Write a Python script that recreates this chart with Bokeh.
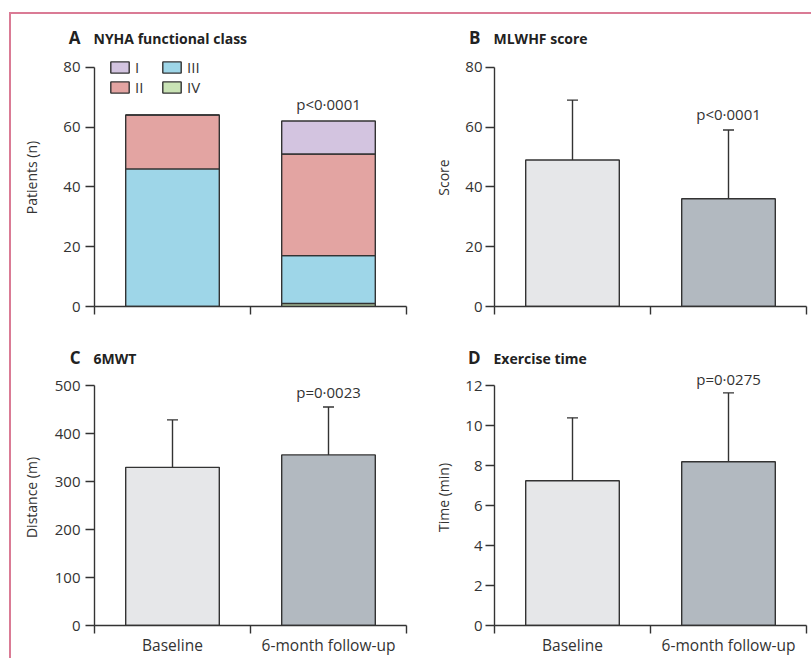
from bokeh.plotting import figure
from bokeh.layouts import column, row
from bokeh.core.properties import value
from bokeh.models import (Range1d, FixedTicker, Legend, LegendItem, Label, Div, Spacer,
                          Whisker, TeeHead, ColumnDataSource, LinearAxis)
from bokeh.embed import file_html
from bokeh.resources import INLINE

# ---------------- data ----------------
categories = ["Baseline", "6-month follow-up"]
nyha_classes = ["I", "II", "III", "IV"]
nyha_I = [0, 11]
nyha_II = [18, 34]
nyha_III = [46, 16]
nyha_IV = [0, 1]

mlwhf_mean = [49, 36]
mlwhf_sd = [20, 23]

smwt_mean = [330, 356]
smwt_sd = [99, 100]

extime_mean = [7.25, 8.2]
extime_sd = [3.15, 3.45]

p_values = ["p<0\u00b70001", "p<0\u00b70001", "p=0\u00b70023", "p=0\u00b70275"]
panel_letters = ["A", "B", "C", "D"]
panel_titles = ["NYHA functional class", "MLWHF score", "6MWT", "Exercise time"]
y_labels = ["Patients (n)", "Score", "Distance (m)", "Time (min)"]
ticks_A = [0, 20, 40, 60, 80]
ticks_B = [0, 20, 40, 60, 80]
ticks_C = [0, 100, 200, 300, 400, 500]
ticks_D = [0, 2, 4, 6, 8, 10, 12]

# ---------------- style ----------------
FONT = "Open Sans"
INK = "#333333"
TITLE_INK = "#222222"
PINK = "#DA7B95"
BAR_COLORS = ["#E6E7E9", "#B2B9C0"]
NYHA_COLORS = {"I": "#D3C4E0", "II": "#E3A4A2", "III": "#9ED6E8", "IV": "#C9E3B5"}
LW = 1.4
P_OFFSETS = [17, 16, 15.3, 13.5]
LETTER_SIZE, TITLE_SIZE = 17, 14


def make_panel(width, height, bl, br, bt, bb, ymax, zero_to_top_px, yticks, ylabel,
               label_standoff, axis_label_standoff, show_xlabels):
    frame_h = height - bt - bb
    y_end = ymax * frame_h / zero_to_top_px
    p = figure(width=width, height=height, x_range=Range1d(0, len(categories)),
               y_range=Range1d(0, y_end), output_backend="svg", toolbar_location=None,
               tools="", title=None, x_axis_type=None, y_axis_type=None,
               min_border_left=bl, min_border_right=br, min_border_top=bt, min_border_bottom=bb)
    p.outline_line_color = None
    p.background_fill_color = "white"
    p.border_fill_color = "white"

    xmaj = [i + 0.5 for i in range(len(categories))] if show_xlabels else []
    xa = LinearAxis(ticker=FixedTicker(ticks=xmaj, minor_ticks=list(range(len(categories) + 1))),
                    major_tick_out=0, major_tick_in=0, major_tick_line_color=None,
                    minor_tick_out=8, minor_tick_in=0, minor_tick_line_color=INK,
                    minor_tick_line_width=LW, axis_line_color=INK, axis_line_width=LW,
                    major_label_overrides={i + 0.5: c for i, c in enumerate(categories)},
                    major_label_text_font=FONT, major_label_text_font_size="15.5px",
                    major_label_text_color=INK, major_label_standoff=0)
    p.add_layout(xa, "below")

    ya = LinearAxis(ticker=FixedTicker(ticks=yticks), bounds=(0, ymax),
                    major_tick_out=9, major_tick_in=0, major_tick_line_color=INK,
                    major_tick_line_width=LW, minor_tick_line_color=None,
                    axis_line_color=INK, axis_line_width=LW,
                    major_label_text_font=FONT, major_label_text_font_size="15px",
                    major_label_text_color=INK, major_label_standoff=label_standoff,
                    axis_label=ylabel, axis_label_text_font=FONT,
                    axis_label_text_font_size="14px", axis_label_text_font_style="normal",
                    axis_label_text_color=INK, axis_label_standoff=axis_label_standoff)
    p.add_layout(ya, "left")
    return p


def make_title_strip(width, height, idxs, axis_xs, baseline):
    # one strip per row; its ranges are in pixels (y downwards); texts centred on their middle
    t = figure(width=width, height=height, x_range=Range1d(0, width), y_range=Range1d(height, 0),
               output_backend="svg", toolbar_location=None, tools="", title=None,
               x_axis_type=None, y_axis_type=None, min_border_left=0, min_border_right=0,
               min_border_top=0, min_border_bottom=0)
    t.outline_line_color = None
    t.background_fill_color = "white"
    t.border_fill_color = "white"
    t.text(x=[ax - 14 for ax in axis_xs], y=[baseline - 0.385 * LETTER_SIZE] * len(idxs),
           text=[panel_letters[i] for i in idxs], text_align="right",
           text_baseline="middle", text_font=value(FONT), text_font_style="bold",
           text_font_size=f"{LETTER_SIZE}px", text_color=TITLE_INK)
    t.text(x=[ax - 1 for ax in axis_xs], y=[baseline - 0.385 * TITLE_SIZE] * len(idxs),
           text=[panel_titles[i] for i in idxs], text_align="left",
           text_baseline="middle", text_font=value(FONT), text_font_style="bold",
           text_font_size=f"{TITLE_SIZE}px", text_color=TITLE_INK)
    return t


def add_pvalue(p, idx, ytop):
    p.add_layout(Label(x=len(categories) - 0.5, y=ytop, y_offset=P_OFFSETS[idx],
                       text=p_values[idx], text_align="center", text_baseline="middle",
                       text_font=FONT, text_font_size="15px", text_color=INK))


def add_mean_sd(p, means, sds):
    xs = [i + 0.5 for i in range(len(categories))]
    src = ColumnDataSource(dict(x=xs, top=means, upper=[m + s for m, s in zip(means, sds)],
                                color=BAR_COLORS))
    p.vbar(x="x", top="top", width=0.6, source=src, fill_color="color",
           line_color=INK, line_width=LW)
    p.add_layout(Whisker(source=src, base="x", lower="top", upper="upper", line_color=INK,
                         line_width=LW, lower_head=None,
                         upper_head=TeeHead(size=11, line_color=INK, line_width=LW)))


# page geometry: pink frame line at top (y 12-14) and left (x 9-11); panels start at (11, 14)
W1, W2 = 401, 399
T1, P1 = 34, 292      # row 1: title strip + plots (page y 14..340)
T2, P2 = 29, 289      # row 2: title strip + plots (page y 340..658)
BL1, BL2 = 83, 82     # frame-left offsets of left / right panels

# ---- Panel A ----
pA = make_panel(W1, P1, BL1, 6, 0, 34, 80, 239.3, ticks_A, y_labels[0], 5, 19, False)
src_A = ColumnDataSource(dict(x=[i + 0.5 for i in range(len(categories))],
                              I=nyha_I, II=nyha_II, III=nyha_III, IV=nyha_IV))
stack_order = ["IV", "III", "II", "I"]
rs = pA.vbar_stack(stack_order, x="x", width=0.6, source=src_A,
                   fill_color=[NYHA_COLORS[k] for k in stack_order],
                   line_color=INK, line_width=LW)
rmap = dict(zip(stack_order, rs))
legend = Legend(items=[LegendItem(label=c, renderers=[rmap[c]]) for c in nyha_classes],
                location=(14, 209), orientation="vertical", nrows=2,
                glyph_width=23, glyph_height=14, label_standoff=4, label_width=25,
                label_height=20, spacing=0, padding=0, margin=0,
                border_line_color=None, background_fill_alpha=0,
                label_text_font=FONT, label_text_font_size="15px", label_text_color=INK)
pA.add_layout(legend)
totals_A = [a + b + c + d for a, b, c, d in zip(nyha_I, nyha_II, nyha_III, nyha_IV)]
add_pvalue(pA, 0, totals_A[-1])

# ---- Panel B ----
pB = make_panel(W2, P1, BL2, 5, 0, 34, 80, 239.3, ticks_B, y_labels[1], 3, 9, False)
add_mean_sd(pB, mlwhf_mean, mlwhf_sd)
add_pvalue(pB, 1, mlwhf_mean[-1] + mlwhf_sd[-1])

# ---- Panel C ----
pC = make_panel(W1, P2, BL1, 6, 0, 33, 500, 239.6, ticks_C, y_labels[2], 5, 11, True)
add_mean_sd(pC, smwt_mean, smwt_sd)
add_pvalue(pC, 2, smwt_mean[-1] + smwt_sd[-1])

# ---- Panel D ----
pD = make_panel(W2, P2, BL2, 5, 0, 33, 12, 239.6, ticks_D, y_labels[3], 3, 9, True)
add_mean_sd(pD, extime_mean, extime_sd)
add_pvalue(pD, 3, extime_mean[-1] + extime_sd[-1])

strip1 = make_title_strip(W1 + W2, T1, [0, 1], [BL1, W1 + BL2], 29.5)
strip2 = make_title_strip(W1 + W2, T2, [2, 3], [BL1, W1 + BL2], 23.3)

panels = column(
    strip1,
    row(pA, pB, spacing=0),
    strip2,
    row(pC, pD, spacing=0),
    spacing=0,
)

H_ALL = T1 + P1 + T2 + P2
top_line = Div(text="", width=802, height=2, margin=0, styles={"background-color": PINK})
left_line = Div(text="", width=2, height=H_ALL, margin=0, styles={"background-color": PINK})

layout = column(
    Spacer(width=811, height=12, margin=0),
    row(Spacer(width=9, height=2, margin=0), top_line, spacing=0),
    row(Spacer(width=9, height=H_ALL, margin=0), left_line, panels, spacing=0),
    spacing=0,
)

open("out.html", "w").write(file_html(layout, INLINE))
